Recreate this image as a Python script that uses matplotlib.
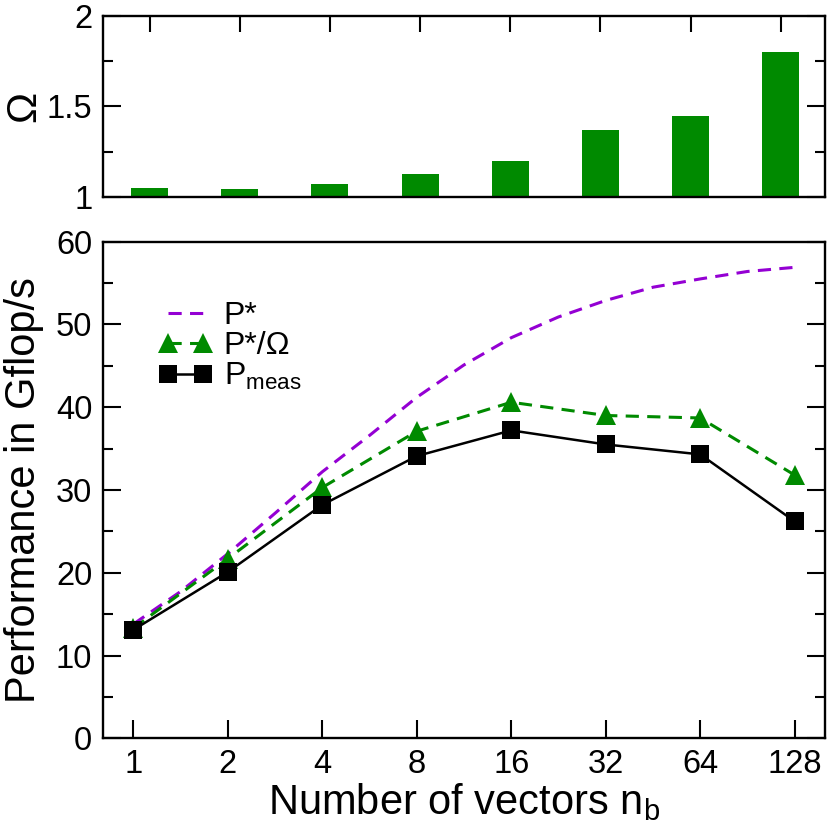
import numpy as np
import matplotlib
matplotlib.use('Agg')
import matplotlib.pyplot as plt

# dados
nb = [1, 2, 4, 8, 16, 32, 64, 128]
nb_labels = ['1', '2', '4', '8', '16', '32', '64', '128']
omega = [1.05, 1.04, 1.07, 1.125, 1.20, 1.37, 1.445, 1.80]
p_omega = [13.3, 21.7, 30.3, 37.1, 40.6, 39.0, 38.7, 31.8]
p_meas = [13.1, 20.1, 28.2, 34.1, 37.2, 35.5, 34.3, 26.2]
# curva P* (lida tambem entre os pontos)
pstar_nb = [1, 1.41, 2, 2.83, 4, 5.66, 8, 11.3, 16, 22.6, 32, 45.3, 64, 90.5, 128]
pstar = [13.8, 17.7, 22.3, 27.2, 32.2, 36.6, 41.2, 45.1, 48.4, 50.9, 52.9, 54.5, 55.5, 56.4, 56.9]

plt.rcParams['font.family'] = ['Liberation Sans', 'DejaVu Sans']
plt.rcParams['mathtext.fontset'] = 'custom'
plt.rcParams['mathtext.rm'] = 'Liberation Sans'
plt.rcParams['mathtext.it'] = 'Liberation Sans:italic'
plt.rcParams['lines.scale_dashes'] = False

green = '#008a00'
purple = '#9400d3'
tick_fs = 23.5
label_fs = 30

fig = plt.figure(figsize=(8.3, 8.38), dpi=100)
ax1 = fig.add_axes([0.1237, 0.7653, 0.8702, 0.2156])
ax2 = fig.add_axes([0.1237, 0.1190, 0.8702, 0.5926])

# painel de cima: Omega
pos = np.arange(1, len(nb) + 1)
ax1.bar(pos, omega, width=0.41, color=green, linewidth=0)
ax1.set_xlim(0.48, 8.49)
ax1.set_ylim(1, 2)
ax1.set_yticks([1, 1.5, 2])
ax1.set_yticklabels(['1', '1.5', '2'])
ax1.set_yticks([1.25, 1.75], minor=True)
ax1.set_xticks(pos)
ax1.tick_params(axis='x', which='major', direction='in', bottom=False, top=True,
                labelbottom=False, length=11.5, width=1.5)
ax1.tick_params(axis='y', which='major', direction='in', left=True, right=True,
                length=13, width=1.5, pad=7.5, labelsize=tick_fs)
ax1.tick_params(axis='y', which='minor', direction='in', left=True, right=True,
                length=7, width=1.5)
ax1.set_ylabel('Ω', fontsize=label_fs)
ax1.yaxis.set_label_coords(-0.081, 0.5)

# painel de baixo: desempenho
ax2.set_xscale('log', base=2)
ax2.plot(pstar_nb, pstar, color=purple, lw=2.2, dashes=(9.5, 6), label='P*')
ax2.plot(nb, p_omega, color=green, lw=2.2, dashes=(9.5, 6), marker='^', ms=14,
         mew=0, label='P*/Ω')
ax2.plot(nb, p_meas, color='black', lw=1.8, marker='s', ms=12.5, mew=0,
         label=r'P$_\mathrm{meas}$')
ax2.set_xlim(2 ** -0.325, 2 ** 7.32)
ax2.set_ylim(0, 60)
ax2.set_xticks(nb)
ax2.set_xticklabels(nb_labels)
ax2.xaxis.set_minor_locator(matplotlib.ticker.NullLocator())
ax2.set_yticks(np.arange(0, 61, 10))
ax2.set_yticks(np.arange(5, 60, 10), minor=True)
ax2.tick_params(axis='x', which='major', direction='in', top=False, length=13,
                width=1.5, pad=8, labelsize=tick_fs)
ax2.tick_params(axis='y', which='major', direction='in', left=True, right=True,
                length=13, width=1.5, pad=7.5, labelsize=tick_fs)
ax2.tick_params(axis='y', which='minor', direction='in', left=True, right=True,
                length=7, width=1.5)
ax2.set_xlabel(r'Number of vectors n$_\mathrm{b}$', fontsize=label_fs)
ax2.xaxis.set_label_coords(0.5, -0.086)
ax2.set_ylabel('Performance in Gflop/s', fontsize=label_fs)
ax2.yaxis.set_label_coords(-0.081, 0.5)

leg = ax2.legend(loc='upper left', bbox_to_anchor=(0.077, 0.88), frameon=False,
                 fontsize=23, numpoints=2, handlelength=1.7, handletextpad=0.35,
                 labelspacing=0.0, borderpad=0, borderaxespad=0)

for ax in (ax1, ax2):
    for s in ax.spines.values():
        s.set_linewidth(1.7)

fig.savefig('out.png', dpi=100)
